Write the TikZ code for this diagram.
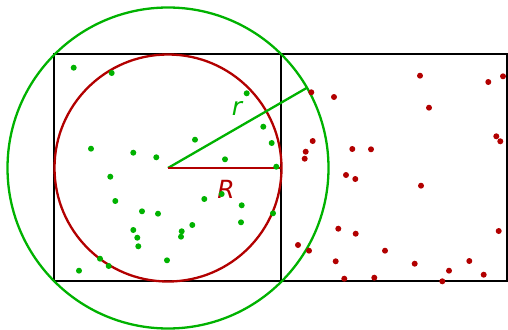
\documentclass[tikz,border=0pt]{standalone}
\usepackage{fontspec}
\setsansfont{DejaVu Sans}
\usetikzlibrary{positioning,calc}
\definecolor{ingreen}{RGB}{0,178,0}
\definecolor{inred}{RGB}{178,0,0}

\begin{document}
\begin{tikzpicture}[x=1pt, y=-1pt,
    frame/.style={draw=black, line width=2.3pt},
    circ/.style={line width=2.3pt},
    dot/.style={circle, inner sep=0pt, minimum size=6pt},
    lbl/.style={font=\sffamily\itshape\fontsize{25}{25}\selectfont}
]
    \useasboundingbox (0,0) rectangle (508,329);
    \coordinate (c) at (168,168);

    % square and strip
    \draw[frame] (54,54) rectangle (281,281);
    \draw[frame] (281,54) -- (507,54) -- (507,281) -- (281,281);

    % circles
    \draw[circ, draw=inred] (c) circle (113.5);
    \draw[circ, draw=ingreen] (c) circle (160.5);

    % radii
    \coordinate (rend) at ($(c)+(30:160.5pt)$);
    \coordinate (Rend) at (281,168);
    \draw[circ, draw=ingreen] (c) -- (rend);
    \draw[circ, draw=inred] (c) -- (Rend);
    \node[lbl, text=ingreen] (rlab) at (237,108) {r};
    \node[lbl, text=inred] (Rlab) at (226,189) {R};

    % points
    \foreach \px/\py in {73.7/67.7, 111.7/73, 246.7/93.3, 263.3/126.7, 271.7/143,
        195/139.7, 91/148.7, 133.3/152.7, 156.3/157.3, 225/159.3, 276.3/166.7,
        110.3/176.7, 115.3/201, 142/211.3, 158/213.7, 204.3/199, 221.7/194,
        241.7/205.3, 241/222.3, 273/213.3, 133.3/230, 137.3/237.7, 138.3/246.3,
        181.7/231.3, 181/236.7, 192.3/225, 167/260.3, 100/258.7, 108.7/266, 79/270.7}
        \node[dot, fill=ingreen] at (\px,\py) {};
    \foreach \px/\py in {311.3/92.3, 334/97, 420/75.7, 488.3/82, 503/76.3,
        429/107.7, 312.7/141, 305.7/151.7, 304.7/158.7, 352.3/149, 371/149.3,
        496.3/136.3, 500.3/141.3, 346/175, 355.3/179, 421/185.7, 338.3/228.7,
        355.7/233.7, 498.7/231, 298/245, 309/250.7, 385/250.7, 335.7/261.3,
        414.7/263.7, 469.3/261, 449/270.7, 483.7/274.7, 344.3/278.7, 374.3/277.7,
        442.3/281.3}
        \node[dot, fill=inred] at (\px,\py) {};
\end{tikzpicture}
\end{document}
